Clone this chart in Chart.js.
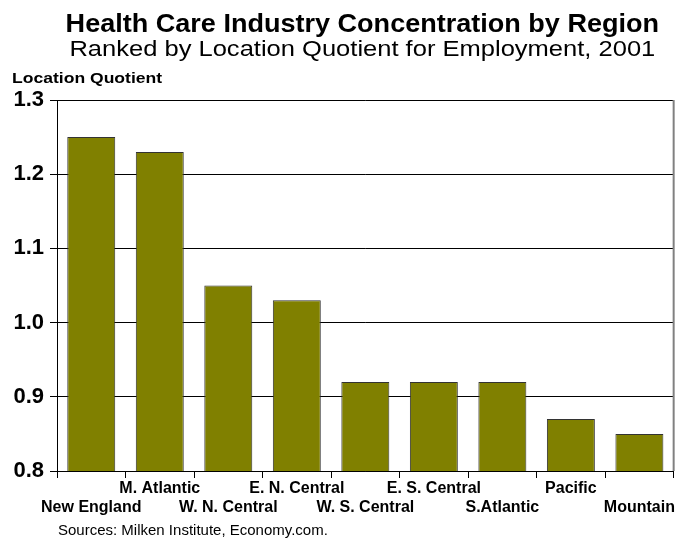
<!DOCTYPE html>
<html>
<head>
<meta charset="utf-8">
<script src="https://cdn.jsdelivr.net/npm/chart.js@4/dist/chart.umd.min.js"></script>
<style>
  body { margin: 0; background: #fff; }
  #wrap { width: 676px; height: 540px; position: relative; }
</style>
</head>
<body>
<div id="wrap"><canvas id="graph" width="676" height="540"></canvas></div>
<script>
// regions ranked by location quotient
var regions = ["New England", "M. Atlantic", "W. N. Central", "E. N. Central", "W. S. Central",
    "E. S. Central", "S.Atlantic", "Pacific", "Mountain"]
var quotients = [1.25, 1.23, 1.05, 1.03, 0.92, 0.92, 0.92, 0.87, 0.85]
var yTicks = [0.8, 0.9, 1.0, 1.1, 1.2, 1.3]

var titleText = "Health Care Industry Concentration by Region"
var subtitleText = "Ranked by Location Quotient for Employment, 2001"
var axisText = "Location Quotient"
var sourceText = "Sources: Milken Institute, Economy.com."

const FONT = "Arial, 'Liberation Sans', sans-serif"

// draws a line of text squeezed/stretched horizontally by sx
function wideText(ctx, text, x, y, sx) {
    ctx.save()
    ctx.translate(x, y)
    ctx.scale(sx, 1)
    ctx.fillText(text, 0, 0)
    ctx.restore()
}

// titles, axis name, source line and the grey right edge
var textPlugin = {
    id: "texts",
    afterDraw(chart) {
        const ctx = chart.ctx
        const area = chart.chartArea
        ctx.save()
        ctx.fillStyle = "#000"
        ctx.textBaseline = "alphabetic"
        ctx.textAlign = "center"
        var mid = (area.left + area.right) / 2 - 3
        ctx.font = "bold 26px " + FONT
        wideText(ctx, titleText, mid, 32, 1.04)
        ctx.font = "22px " + FONT
        wideText(ctx, subtitleText, mid, 56, 1.16)
        ctx.textAlign = "left"
        ctx.font = "bold 15px " + FONT
        wideText(ctx, axisText, 12, 83, 1.17)
        ctx.font = "15px " + FONT
        ctx.fillText(sourceText, 58, 535)

        ctx.strokeStyle = "#808080"
        ctx.lineWidth = 2
        ctx.beginPath()
        ctx.moveTo(area.right, area.top)
        ctx.lineTo(area.right, area.bottom)
        ctx.stroke()
        ctx.restore()
    }
}

var data = {
    labels: regions,
    datasets: [{
        data: quotients,
        backgroundColor: "#808000",
        borderColor: "#333333",
        borderWidth: 1,
        categoryPercentage: 0.7,
        barPercentage: 1.0
    }]
}

var options = {
    responsive: false,
    animation: false,
    layout: { padding: { top: 100, right: 1, bottom: 0, left: 0 } },
    plugins: { legend: { display: false }, tooltip: { enabled: false } },
    scales: {
        x: {
            offset: true,
            afterFit: function (scale) { scale.height = 69 },
            grid: { offset: true, drawOnChartArea: false, color: "#000", tickLength: 7, tickColor: "#000" },
            border: { color: "#000", width: 1 },
            ticks: {
                color: "#000",
                maxRotation: 0,
                autoSkip: false,
                padding: 1,
                font: { family: FONT, size: 16, weight: "bold", lineHeight: 1.2 },
                // staggered labels: odd ones on the upper row
                callback: function (value, index) {
                    var name = regions[index]
                    return index % 2 == 0 ? ["", name] : [name, ""]
                }
            }
        },
        y: {
            min: 0.8,
            max: 1.3,
            afterFit: function (scale) { scale.width = 57 },
            afterBuildTicks: function (scale) {
                scale.ticks = yTicks.map(v => ({ value: v }))
            },
            grid: { color: "#000", tickLength: 7, tickColor: "#000" },
            border: { color: "#000", width: 1 },
            ticks: {
                color: "#000",
                padding: 6,
                font: { family: FONT, size: 22, weight: "bold" },
                callback: function (value) { return value.toFixed(1) }
            }
        }
    }
}

var graph = new Chart(document.getElementById("graph"), {
    type: "bar",
    data: data,
    options: options,
    plugins: [textPlugin]
})
</script>
</body>
</html>
